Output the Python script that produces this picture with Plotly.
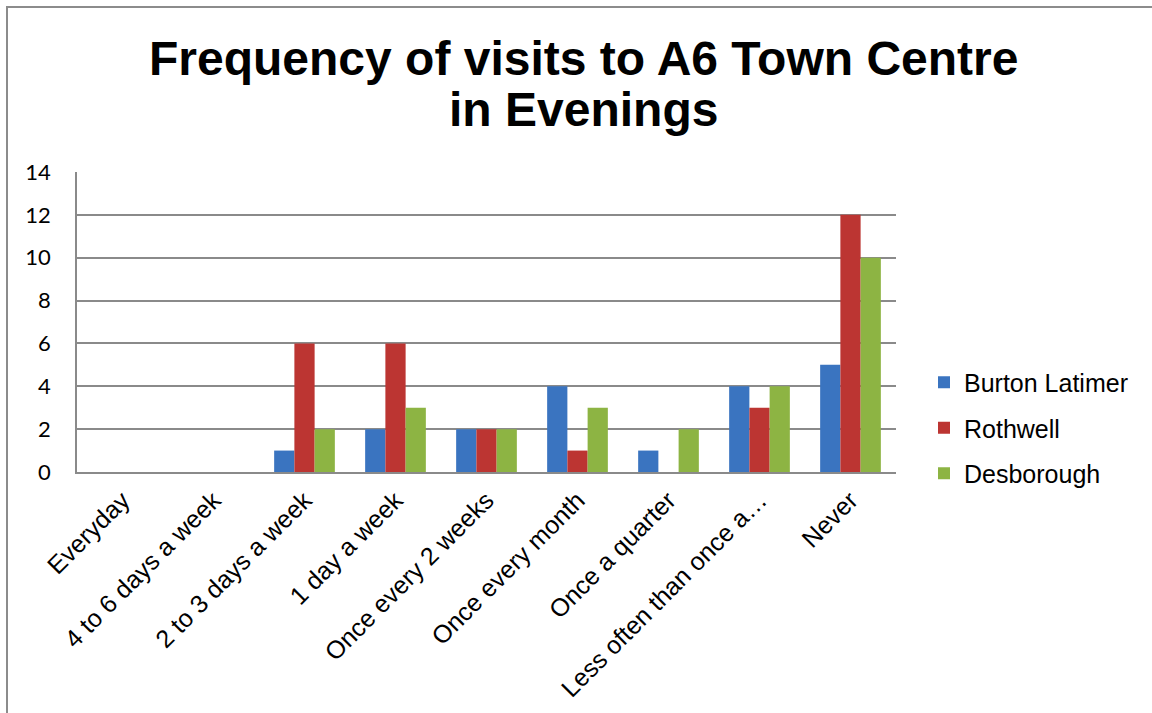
import plotly.graph_objects as go

categories = ["Everyday", "4 to 6 days a week", "2 to 3 days a week", "1 day a week",
              "Once every 2 weeks", "Once every month", "Once a quarter",
              "Less often than once a…", "Never"]
burton_latimer = [0, 0, 1, 2, 2, 4, 1, 4, 5]
rothwell = [0, 0, 6, 6, 2, 1, 0, 3, 12]
desborough = [0, 0, 2, 3, 2, 3, 2, 4, 10]
y_ticks = [0, 2, 4, 6, 8, 10, 12, 14]

series = [("Burton Latimer", burton_latimer, "#3A74C0"),
          ("Rothwell", rothwell, "#BC3532"),
          ("Desborough", desborough, "#8DB443")]

W, H = 1152, 713
L, R, T, B = 77, 896, 172, 472
pw, ph = R - L, B - T

def px_x(x):
    return (x - L) / pw

def px_y(y):
    return (B - y) / ph

fig = go.Figure()
for i, (name, vals, col) in enumerate(series):
    fig.add_trace(go.Bar(x=categories, y=vals, name=name, marker_color=col,
                         marker_line_width=0, legendgroup=str(i)))

fig.update_layout(
    width=W, height=H,
    margin=dict(l=L, r=W - R, t=T, b=H - B, autoexpand=False),
    paper_bgcolor="white", plot_bgcolor="white",
    barmode="group", bargap=0.333, bargroupgap=0,
    font=dict(family="Liberation Sans, Arial", color="black"),
    showlegend=True,
    legend=dict(x=px_x(924), xanchor="left", y=px_y(428), yanchor="middle",
                font=dict(size=25, family="Liberation Sans, Arial"),
                traceorder="grouped", tracegroupgap=10,
                itemwidth=30, bgcolor="rgba(0,0,0,0)"),
    xaxis=dict(tickangle=-45, tickfont=dict(size=25, family="Liberation Sans, Arial"),
               showline=True, linecolor="#8A8A8A", linewidth=1.5,
               showgrid=False, ticks="", ticklabelstandoff=2),
    yaxis=dict(range=[0, 14], tickvals=y_ticks, tickfont=dict(size=22, family="Lato, Carlito, Liberation Sans"),
               showline=True, linecolor="#8A8A8A", linewidth=1.5,
               showgrid=True, gridcolor="#8A8A8A", gridwidth=1.5,
               ticks="", ticklabelstandoff=20, zeroline=False),
)

fig.add_annotation(text="<b>Frequency of visits to A6 Town Centre</b>", xref="paper", yref="paper",
                   x=px_x(583), y=px_y(59), xanchor="center", yanchor="middle",
                   showarrow=False, font=dict(size=48, family="Liberation Sans, Arial", color="black"))
fig.add_annotation(text="<b>in Evenings</b>", xref="paper", yref="paper",
                   x=px_x(583), y=px_y(110), xanchor="center", yanchor="middle",
                   showarrow=False, font=dict(size=48, family="Liberation Sans, Arial", color="black"))

fig.add_shape(type="rect", xref="paper", yref="paper",
              x0=px_x(7), x1=px_x(1170), y0=px_y(730), y1=px_y(7),
              line=dict(color="#8C8C8C", width=2), fillcolor="rgba(0,0,0,0)", layer="below")

fig.write_html("out.html", config={"displayModeBar": False},
               post_script="document.body.style.margin='0';document.body.style.overflow='hidden';")
